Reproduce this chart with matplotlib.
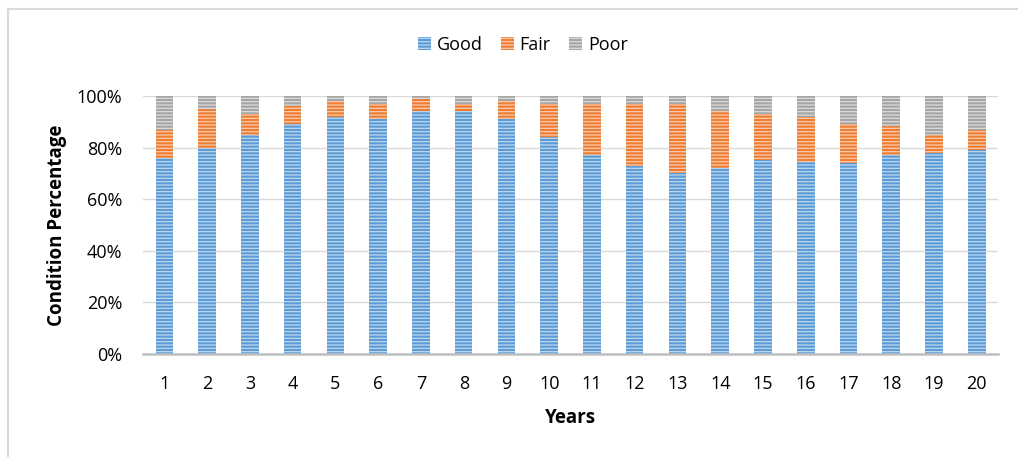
import numpy as np
import matplotlib.pyplot as plt
from matplotlib.lines import Line2D
from matplotlib.ticker import PercentFormatter

plt.rcParams['font.family'] = ['Open Sans', 'DejaVu Sans']
plt.rcParams['hatch.linewidth'] = 0.9

years = [str(i) for i in range(1, 21)]
good = [76, 80, 85, 89, 92, 91, 94, 94, 91, 84, 77, 73, 70, 72, 75, 74.5, 74, 77, 78, 79]
fair = [11, 15, 8, 7, 6, 6, 5, 3, 7, 13, 20, 24, 27, 22, 18, 17.5, 15, 11.5, 7, 8]
poor = [13, 5, 7, 4, 2, 3, 1, 3, 2, 3, 3, 3, 3, 6, 7, 8, 11, 11.5, 15, 13]

colors = ['#5B9BD5', '#ED7D31', '#A5A5A5']
names = ['Good', 'Fair', 'Poor']

fig = plt.figure(figsize=(10.18, 4.57), dpi=100)
ax = fig.add_axes([0.1405, 0.2254, 0.84, 0.5646])

x = np.arange(1, 21)
bottom = np.zeros(20)
for vals, c, n in zip([good, fair, poor], colors, names):
    vals = np.array(vals) / 100
    ax.bar(x, vals, width=0.41, bottom=bottom, color=c, edgecolor=(1, 1, 1, 0.6),
           linewidth=0, hatch='-----', label=n, zorder=3)
    bottom += vals

ax.set_xlim(0.5, 20.5)
ax.set_ylim(0, 1)
ax.set_xticks(x)
ax.set_xticklabels(years)
ax.set_yticks(np.arange(0, 1.01, 0.2))
ax.yaxis.set_major_formatter(PercentFormatter(1.0, decimals=0))
ax.tick_params(length=0, labelsize=13, colors='#000000')
ax.tick_params(axis='y', pad=15)
ax.tick_params(axis='x', pad=15)
ax.grid(axis='y', color='#D9D9D9', linewidth=1, zorder=0)
for s in ['top', 'right', 'left']:
    ax.spines[s].set_visible(False)
ax.spines['bottom'].set_color('#BFBFBF')
ax.spines['bottom'].set_linewidth(1.8)
ax.spines['bottom'].set_zorder(4)

ax.set_xlabel('Years', fontsize=13.5, fontweight='bold', labelpad=11)
ax.set_ylabel('Condition Percentage', fontsize=13.5, fontweight='bold', labelpad=7)

ax.legend(loc='upper center', bbox_to_anchor=(0.444, 1.295), ncol=3, frameon=False,
          fontsize=13, handlelength=0.75, handleheight=0.75, handletextpad=0.3,
          columnspacing=1.0)

# chart border (only left and top visible in the crop)
fig.add_artist(Line2D([0.0079, 0.0079], [0, 0.98], color='#D9D9D9', linewidth=1.5))
fig.add_artist(Line2D([0.0079, 1], [0.98, 0.98], color='#D9D9D9', linewidth=1.5))

plt.savefig('out.png', dpi=100)
